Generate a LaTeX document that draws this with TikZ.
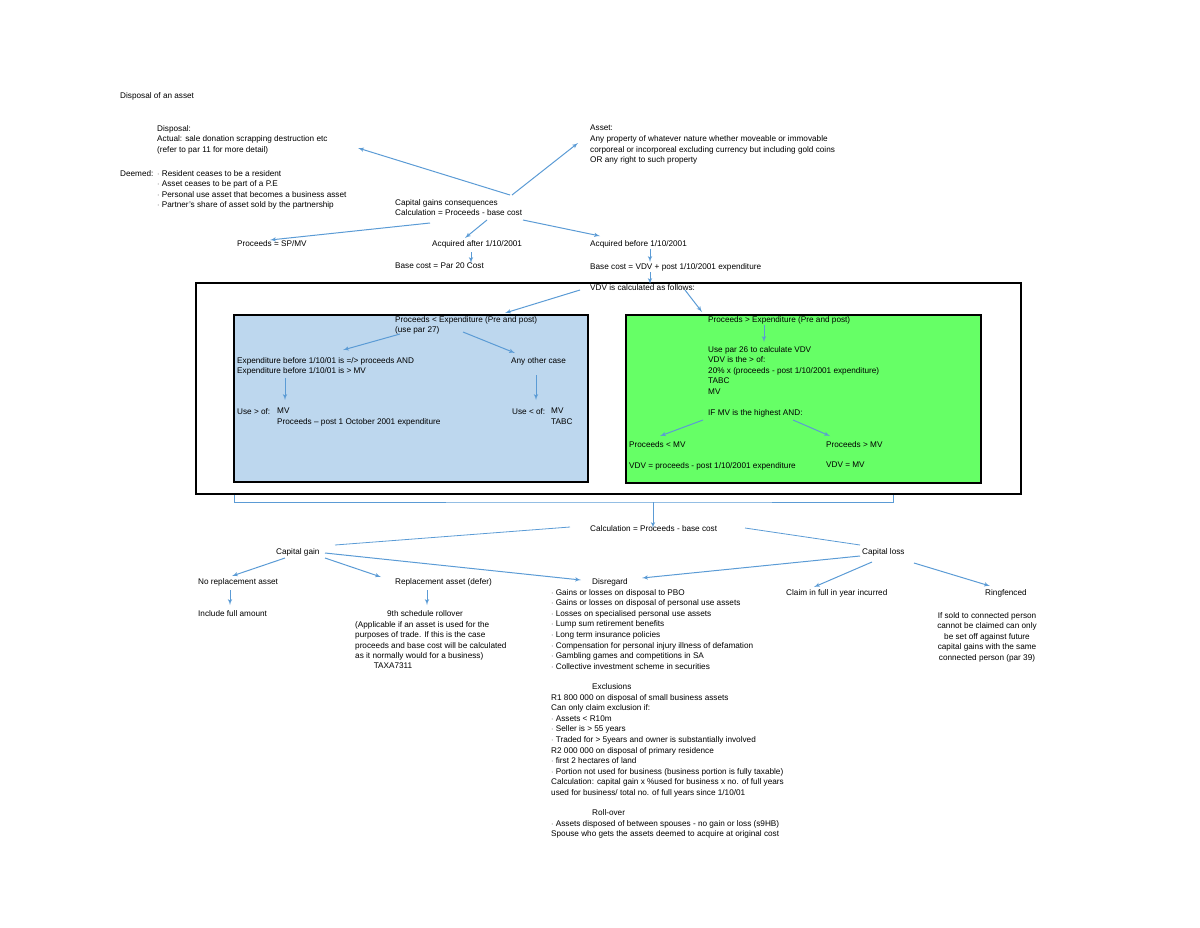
\documentclass[tikz,border=0pt]{standalone}
\usepackage{fontspec}
\setmainfont{Liberation Sans}
\usepackage{tikz}
\usetikzlibrary{shapes,arrows,calc}
\definecolor{arrowblue}{HTML}{5B9BD5}
\definecolor{boxblue}{HTML}{BDD7EE}
\definecolor{boxgreen}{HTML}{66FF66}
\tikzstyle{arrow} = [draw=arrowblue, line width=1pt, -latex']
\tikzstyle{line} = [draw=arrowblue, line width=0.8pt]
\tikzstyle{txt} = [anchor=north west, inner sep=0pt, align=left, font=\fontsize{8.2}{10.6}\selectfont]

\begin{document}
\begin{tikzpicture}[x=1pt, y=-1pt]
      \useasboundingbox (0,0) rectangle (1200,927);

      % boxes
      \draw[line width=1.5pt] (196,283) rectangle (1021,494);
      \draw[line width=1.3pt, fill=boxblue] (234,315) rectangle (588,482);
      \draw[line width=1.3pt, fill=boxgreen] (626,315) rectangle (981,483);

      % top part
      \node[txt] (title) at (120,92) {Disposal of an asset};
      \node[txt] (disp) at (157,125) {Disposal:\\Actual: sale donation scrapping destruction etc\\(refer to par 11 for more detail)};
      \node[txt] (deemed) at (120,170) {Deemed:};
      \node[txt] (deemedlist) at (157,170) {$\cdot$ Resident ceases to be a resident\\$\cdot$ Asset ceases to be part of a P.E\\$\cdot$ Personal use asset that becomes a business asset\\$\cdot$ Partner's share of asset sold by the partnership};
      \node[txt] (asset) at (590,125) {Asset:\\Any property of whatever nature whether moveable or immovable\\corporeal or incorporeal excluding currency but including gold coins\\ OR any right to such property};
      \node[txt] (cgc) at (395,199) {Capital gains consequences\\Calculation = Proceeds - base cost};
      \node[txt] (proc) at (237,240) {Proceeds = SP/MV};
      \node[txt] (acqa) at (432,240) {Acquired after 1/10/2001};
      \node[txt] (bca) at (395,263) {Base cost = Par 20 Cost};
      \node[txt] (acqb) at (590,240) {Acquired before 1/10/2001};
      \node[txt] (bcb) at (590,263) {Base cost = VDV + post 1/10/2001 expenditure};
      \node[txt] (vdv) at (590,284) {VDV is calculated as follows:};

      % blue box
      \node[txt] (pless) at (395,316) {Proceeds < Expenditure (Pre and post)\\(use par 27)};
      \node[txt] (expb) at (237,357) {Expenditure before 1/10/01 is =/> proceeds AND\\Expenditure before 1/10/01 is > MV};
      \node[txt] (other) at (511,357) {Any other case};
      \node[txt] (usegt) at (237,408) {Use > of:};
      \node[txt] (mvproc) at (277,408) {MV\\Proceeds -- post 1 October 2001 expenditure};
      \node[txt] (uselt) at (512,408) {Use < of:};
      \node[txt] (mvtabc) at (551,408) {MV\\TABC};

      % green box
      \node[txt] (pgt) at (708,316) {Proceeds > Expenditure (Pre and post)};
      \node[txt] (usepar) at (708,346) {Use par 26 to calculate VDV\\VDV is the > of:\\20\% x (proceeds - post 1/10/2001 expenditure)\\TABC\\MV};
      \node[txt] (ifmv) at (708,409) {IF MV is the highest AND:};
      \node[txt] (plmv) at (629,441) {Proceeds < MV};
      \node[txt] (vdvp) at (629,462) {VDV = proceeds - post 1/10/2001 expenditure};
      \node[txt] (pgmv) at (826,441) {Proceeds > MV};
      \node[txt] (vdvmv) at (826,462) {VDV = MV};

      % lower part
      \node[txt] (calc) at (590,525) {Calculation = Proceeds - base cost};
      \node[txt] (gain) at (276,548) {Capital gain};
      \node[txt] (loss) at (862,548) {Capital loss};
      \node[txt] (norep) at (198,578) {No replacement asset};
      \node[txt] (incl) at (198,610) {Include full amount};
      \node[txt] (rep) at (395,578) {Replacement asset (defer)};
      \node[txt, anchor=north] (ninth) at (425,610) {9th schedule rollover};
      \node[txt] (ninthtxt) at (355,621) {(Applicable if an asset is used for the\\purposes of trade. If this is the case\\proceeds and base cost will be calculated\\as it normally would for a business)};
      \node[txt, anchor=north] (taxa) at (393,663) {TAXA7311};
      \node[txt] (disr) at (592,578) {Disregard};
      \node[txt] (dlist) at (551,589) {$\cdot$ Gains or losses on disposal to PBO\\$\cdot$ Gains or losses on disposal of personal use assets\\$\cdot$ Losses on specialised personal use assets\\$\cdot$ Lump sum retirement benefits\\$\cdot$ Long term insurance policies\\$\cdot$ Compensation for personal injury illness of defamation\\$\cdot$ Gambling games and competitions in SA\\$\cdot$ Collective investment scheme in securities};
      \node[txt] (excl) at (592,683) {Exclusions};
      \node[txt] (elist) at (551,694) {R1 800 000 on disposal of small business assets\\Can only claim exclusion if:\\$\cdot$ Assets < R10m\\$\cdot$ Seller is > 55 years\\$\cdot$ Traded for > 5years and owner is substantially involved\\R2 000 000 on disposal of primary residence\\$\cdot$ first 2 hectares of land\\$\cdot$ Portion not used for business (business portion is fully taxable)\\Calculation: capital gain x \%used for business x no. of full years\\used for business/ total no. of full years since 1/10/01};
      \node[txt] (roll) at (592,809) {Roll-over};
      \node[txt] (rlist) at (551,820) {$\cdot$ Assets disposed of between spouses - no gain or loss (s9HB)\\Spouse who gets the assets deemed to acquire at original cost};
      \node[txt] (claim) at (786,589) {Claim in full in year incurred};
      \node[txt] (ring) at (985,589) {Ringfenced};
      \node[txt, anchor=north, align=center] (ifsold) at (987,612) {If sold to connected person\\cannot be claimed can only\\be set off against future\\capital gains with the same\\connected person (par 39)};

      % connectors, top
      \draw[arrow] ([shift={(115,-4)}]cgc.north west) -- ([shift={(201,23)}]disp.north west);
      \draw[arrow] ([shift={(117,-4)}]cgc.north west) -- ([shift={(-12,18)}]asset.north west);
      \draw[arrow] ([shift={(35,24)}]cgc.north west) -- ([shift={(33,0)}]proc.north west);
      \draw[arrow] ([shift={(92,21)}]cgc.north west) -- ([shift={(33,-2)}]acqa.north west);
      \draw[arrow] ([shift={(128,21)}]cgc.north west) -- ([shift={(10,-4)}]acqb.north west);
      \draw[arrow] ([shift={(39,12)}]acqa.north west) -- ([shift={(76,0)}]bca.north west);
      \draw[arrow] ([shift={(60,9)}]acqb.north west) -- ([shift={(60,-1)}]bcb.north west);
      \draw[arrow] ([shift={(60,9)}]bcb.north west) -- ([shift={(60,0)}]vdv.north west);
      \draw[arrow] ([shift={(-10,6)}]vdv.north west) -- ([shift={(110,-3)}]pless.north west);
      \draw[arrow] ([shift={(95,6)}]vdv.north west) -- ([shift={(-6,-4)}]pgt.north west);

      % connectors, boxes
      \draw[arrow] ([shift={(5,18)}]pless.north west) -- ([shift={(106,-7)}]expb.north west);
      \draw[arrow] ([shift={(68,16)}]pless.north west) -- ([shift={(4,-4)}]other.north west);
      \draw[arrow] ([shift={(48,21)}]expb.north west) -- ([shift={(48,-8)}]usegt.north west);
      \draw[arrow] ([shift={(25,18)}]other.north west) -- ([shift={(24,-8)}]uselt.north west);
      \draw[arrow] ([shift={(56,9)}]pgt.north west) -- ([shift={(56,-4)}]usepar.north west);
      \draw[arrow] ([shift={(-5,11)}]ifmv.north west) -- ([shift={(31,-5)}]plmv.north west);
      \draw[arrow] ([shift={(85,11)}]ifmv.north west) -- ([shift={(4,-5)}]pgmv.north west);

      % bracket under the boxes
      \coordinate (bl) at (234,495);
      \coordinate (br) at (893,495);
      \coordinate (bm) at (653,502);
      \draw[line] (bl) |- (bm) -| (br);
      \draw[arrow] (bm) -- ([shift={(63,3)}]calc.north west);

      % connectors, lower
      \draw[line] ([shift={(-20,2)}]calc.north west) -- ([shift={(59,-3)}]gain.north west);
      \draw[line] ([shift={(155,3)}]calc.north west) -- ([shift={(-2,-3)}]loss.north west);
      \draw[arrow] ([shift={(9,10)}]gain.north west) -- ([shift={(34,-2)}]norep.north west);
      \draw[arrow] ([shift={(49,10)}]gain.north west) -- ([shift={(-14,-1)}]rep.north west);
      \draw[arrow] ([shift={(49,5)}]gain.north west) -- ([shift={(-11,2)}]disr.north west);
      \draw[arrow] ([shift={(32,12)}]norep.north west) -- ([shift={(32,-5)}]incl.north west);
      \draw[arrow] ([shift={(32,12)}]rep.north west) -- ([shift={(2,-5)}]ninth.north);
      \draw[arrow] ([shift={(-2,8)}]loss.north west) -- ([shift={(50,0)}]disr.north west);
      \draw[arrow] ([shift={(10,14)}]loss.north west) -- ([shift={(28,-2)}]claim.north west);
      \draw[arrow] ([shift={(52,15)}]loss.north west) -- ([shift={(5,-3)}]ring.north west);
    \end{tikzpicture}
\end{document}
